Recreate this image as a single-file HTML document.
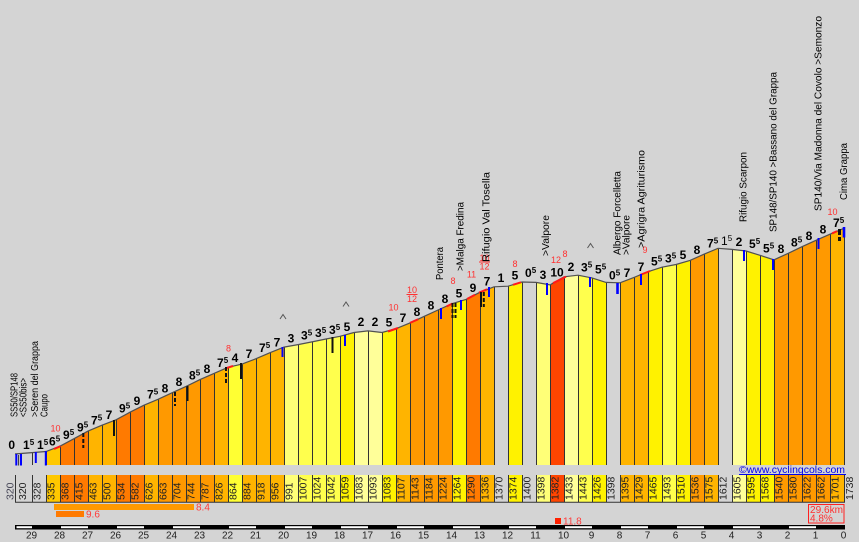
<!DOCTYPE html>
<html><head><meta charset="utf-8"><style>
html,body{margin:0;padding:0;background:#d4d4d4;}
svg{display:block;}
text{font-family:"Liberation Sans",sans-serif;}
</style></head><body>
<svg width="859" height="542" viewBox="0 0 859 542" xmlns="http://www.w3.org/2000/svg">
<rect width="859" height="542" fill="#d4d4d4"/>

<!-- bars -->
<g stroke="none">
<polygon points="46,451.5 60,446.2 60,465 46,465" fill="#FFC800"/>
<polygon points="60,446.2 74,438.7 74,465 60,465" fill="#FF7A00"/>
<polygon points="74,438.7 88,431.1 88,465 74,465" fill="#FF7A00"/>
<polygon points="88,431.1 102,425.2 102,465 88,465" fill="#FFB400"/>
<polygon points="102,425.2 116,419.8 116,465 102,465" fill="#FFB400"/>
<polygon points="116,419.8 130,412.2 130,465 116,465" fill="#FF7A00"/>
<polygon points="130,412.2 144,405.2 144,465 130,465" fill="#FF7A00"/>
<polygon points="144,405.2 158,399.3 158,465 144,465" fill="#FFB400"/>
<polygon points="158,399.3 172,392.8 172,465 158,465" fill="#FF9900"/>
<polygon points="172,392.8 186,386.4 186,465 172,465" fill="#FF9900"/>
<polygon points="186,386.4 200,379.6 200,465 186,465" fill="#FF9900"/>
<polygon points="200,379.6 214,373.4 214,465 200,465" fill="#FF9900"/>
<polygon points="214,373.4 228,367.3 228,465 214,465" fill="#FFB400"/>
<polygon points="228,367.3 242,364.1 242,465 228,465" fill="#FFFF33"/>
<polygon points="242,364.1 256,358.7 256,465 242,465" fill="#FFB400"/>
<polygon points="256,358.7 270,352.7 270,465 256,465" fill="#FFB400"/>
<polygon points="270,352.7 284,347.1 284,465 270,465" fill="#FFB400"/>
<polygon points="284,347.1 298,344.6 298,465 284,465" fill="#FFFF77"/>
<polygon points="298,344.6 312,341.9 312,465 298,465" fill="#FFFF4D"/>
<polygon points="312,341.9 326,339.0 326,465 312,465" fill="#FFFF4D"/>
<polygon points="326,339.0 340,336.3 340,465 326,465" fill="#FFFF4D"/>
<polygon points="340,336.3 354,332.5 354,465 340,465" fill="#FFF200"/>
<polygon points="354,332.5 368,330.9 368,465 354,465" fill="#FFFF99"/>
<polygon points="368,330.9 382,332.5 382,465 368,465" fill="#FFFF99"/>
<polygon points="382,332.5 396,328.7 396,465 382,465" fill="#FFF200"/>
<polygon points="396,328.7 410,322.9 410,465 396,465" fill="#FFB400"/>
<polygon points="410,322.9 424,316.4 424,465 410,465" fill="#FF9900"/>
<polygon points="424,316.4 438,310.0 438,465 424,465" fill="#FF9900"/>
<polygon points="438,310.0 452,303.7 452,465 438,465" fill="#FF9900"/>
<polygon points="452,303.7 466,299.5 466,465 452,465" fill="#FFF200"/>
<polygon points="466,299.5 480,292.2 480,465 466,465" fill="#FF7A00"/>
<polygon points="480,292.2 494,286.8 494,465 480,465" fill="#FFB400"/>
<polygon points="508,286.2 522,282.0 522,465 508,465" fill="#FFF200"/>
<polygon points="536,282.4 550,284.9 550,465 536,465" fill="#FFFF77"/>
<polygon points="550,284.9 564,276.8 564,465 550,465" fill="#FF4500"/>
<polygon points="564,276.8 578,275.2 578,465 564,465" fill="#FFFF99"/>
<polygon points="578,275.2 592,277.9 592,465 578,465" fill="#FFFF4D"/>
<polygon points="592,277.9 606,282.4 606,465 592,465" fill="#FFF200"/>
<polygon points="620,282.8 634,277.4 634,465 620,465" fill="#FFB400"/>
<polygon points="634,277.4 648,271.7 648,465 634,465" fill="#FFB400"/>
<polygon points="648,271.7 662,267.2 662,465 648,465" fill="#FFF200"/>
<polygon points="662,267.2 676,264.5 676,465 662,465" fill="#FFFF4D"/>
<polygon points="676,264.5 690,260.4 690,465 676,465" fill="#FFF200"/>
<polygon points="690,260.4 704,254.2 704,465 690,465" fill="#FF9900"/>
<polygon points="704,254.2 718,248.3 718,465 704,465" fill="#FFB400"/>
<polygon points="732,249.4 746,251.0 746,465 732,465" fill="#FFFF99"/>
<polygon points="746,251.0 760,255.3 760,465 746,465" fill="#FFF200"/>
<polygon points="760,255.3 774,259.8 774,465 760,465" fill="#FFF200"/>
<polygon points="774,259.8 788,253.4 788,465 774,465" fill="#FF9900"/>
<polygon points="788,253.4 802,246.7 802,465 788,465" fill="#FF9900"/>
<polygon points="802,246.7 816,240.3 816,465 802,465" fill="#FF9900"/>
<polygon points="816,240.3 830,234.2 830,465 816,465" fill="#FF9900"/>
<polygon points="830,234.2 844,228.3 844,465 830,465" fill="#FFB400"/>
</g>

<!-- separators -->
<path fill="none" stroke="#333" stroke-width="1" d="M16.5 453.9V465M32.5 452.6V465M46.5 451.5V465M60.5 446.2V465M74.5 438.7V465M88.5 431.1V465M102.5 425.2V465M116.5 419.8V465M130.5 412.2V465M144.5 405.2V465M158.5 399.3V465M172.5 392.8V465M186.5 386.4V465M200.5 379.6V465M214.5 373.4V465M228.5 367.3V465M242.5 364.1V465M256.5 358.7V465M270.5 352.7V465M284.5 347.1V465M298.5 344.6V465M312.5 341.9V465M326.5 339V465M340.5 336.3V465M354.5 332.5V465M368.5 330.9V465M382.5 332.5V465M396.5 328.7V465M410.5 322.9V465M424.5 316.4V465M438.5 310V465M452.5 303.7V465M466.5 299.5V465M480.5 292.2V465M494.5 286.8V465M508.5 286.2V465M522.5 282V465M536.5 282.4V465M550.5 284.9V465M564.5 276.8V465M578.5 275.2V465M592.5 277.9V465M606.5 282.4V465M620.5 282.8V465M634.5 277.4V465M648.5 271.7V465M662.5 267.2V465M676.5 264.5V465M690.5 260.4V465M704.5 254.2V465M718.5 248.3V465M732.5 249.4V465M746.5 251V465M760.5 255.3V465M774.5 259.8V465M788.5 253.4V465M802.5 246.7V465M816.5 240.3V465M830.5 234.2V465M844.5 228.3V465"/>

<!-- profile line -->
<polyline fill="none" stroke="#505050" stroke-width="1.2" points="15,453.9 16,453.9 32,452.6 46,451.5 60,446.2 74,438.7 88,431.1 102,425.2 116,419.8 130,412.2 144,405.2 158,399.3 172,392.8 186,386.4 200,379.6 214,373.4 228,367.3 242,364.1 256,358.7 270,352.7 284,347.1 298,344.6 312,341.9 326,339 340,336.3 354,332.5 368,330.9 382,332.5 396,328.7 410,322.9 424,316.4 438,310 452,303.7 466,299.5 480,292.2 494,286.8 508,286.2 522,282 536,282.4 550,284.9 564,276.8 578,275.2 592,277.9 606,282.4 620,282.8 634,277.4 648,271.7 662,267.2 676,264.5 690,260.4 704,254.2 718,248.3 732,249.4 746,251 760,255.3 774,259.8 788,253.4 802,246.7 816,240.3 830,234.2 844,228.3"/>

<!-- red steep marks -->
<g stroke="#FF1A1A" stroke-width="2" fill="none">
<line x1="54" y1="449" x2="60.5" y2="446.2"/>
<line x1="226" y1="368.2" x2="233" y2="366"/>
<line x1="388" y1="331.5" x2="398" y2="328"/>
<line x1="410" y1="322.9" x2="418" y2="319.3"/>
<line x1="446.5" y1="306.5" x2="452.5" y2="303.5"/>
<line x1="467" y1="299" x2="475" y2="294.8"/>
<line x1="479" y1="292.7" x2="487" y2="289.3"/>
<line x1="513" y1="284.8" x2="521" y2="282.3"/>
<line x1="553" y1="283.2" x2="566" y2="276.6"/>
<line x1="640" y1="275" x2="650" y2="271"/>
<line x1="832" y1="233.4" x2="837" y2="231.2"/>
</g>

<!-- blue markers -->
<g stroke="#0000FF" stroke-width="2">
<line x1="16.3" y1="454" x2="16.3" y2="465.5"/>
<line x1="21" y1="454" x2="21" y2="465.5"/>
<line x1="35.8" y1="452" x2="35.8" y2="463"/>
<line x1="45.8" y1="451" x2="45.8" y2="465.5"/>
<line x1="282.5" y1="347" x2="282.5" y2="357"/>
<line x1="345" y1="335" x2="345" y2="346"/>
<line x1="441" y1="308" x2="441" y2="319"/>
<line x1="461" y1="300" x2="461" y2="310"/>
<line x1="489" y1="287" x2="489" y2="297"/>
<line x1="547" y1="283" x2="547" y2="295"/>
<line x1="590" y1="277" x2="590" y2="287"/>
<line x1="617.5" y1="283" x2="617.5" y2="294" stroke-width="2.6"/>
<line x1="641" y1="274" x2="641" y2="285"/>
<line x1="744" y1="250" x2="744" y2="261"/>
<line x1="773" y1="259" x2="773" y2="270"/>
<line x1="818.5" y1="238" x2="818.5" y2="249"/>
<line x1="844" y1="227" x2="844" y2="237.5" stroke-width="2.6"/>
</g>
<line x1="18.6" y1="455" x2="18.6" y2="465.5" stroke="#333" stroke-width="1"/>

<!-- black markers -->
<g stroke="#111" stroke-width="2">
<line x1="83.3" y1="433" x2="83.3" y2="448" stroke-dasharray="4,2"/>
<line x1="114" y1="420" x2="114" y2="436"/>
<line x1="175" y1="392" x2="175" y2="406" stroke-dasharray="4,2"/>
<line x1="187.5" y1="386" x2="187.5" y2="401"/>
<line x1="226" y1="367" x2="226" y2="383" stroke-dasharray="4,2"/>
<line x1="241" y1="363" x2="241" y2="379"/>
<line x1="332.5" y1="337" x2="332.5" y2="353"/>
<line x1="452.5" y1="303" x2="452.5" y2="318" stroke-dasharray="4,2"/>
<line x1="455.5" y1="303" x2="455.5" y2="318" stroke-dasharray="4,2"/>
<line x1="481" y1="292" x2="481" y2="307"/>
<line x1="483.8" y1="292" x2="483.8" y2="307" stroke-dasharray="4,2"/>
<line x1="839.5" y1="229" x2="839.5" y2="243" stroke-width="3" stroke-dasharray="6,2,4"/>
</g>

<!-- carets -->
<g stroke="#555" stroke-width="1" fill="none">
<polyline points="280,319 283,314.5 286,319"/>
<polyline points="343,306.5 346,302 349,306.5"/>
<polyline points="587.5,248 590.5,243.5 593.5,248"/>
</g>

<!-- gradient labels -->
<g font-weight="bold" font-size="12" fill="#000">
<text x="11.7" y="449" text-anchor="middle">0</text>
<text x="23" y="449">1<tspan font-size="8" dy="-4">5</tspan></text>
<text x="37" y="449">1<tspan font-size="8" dy="-4">5</tspan></text>
<text x="49" y="445.4">6<tspan font-size="8" dy="-4">5</tspan></text>
<text x="63" y="439">9<tspan font-size="8" dy="-4">5</tspan></text>
<text x="77" y="431.4">9<tspan font-size="8" dy="-4">5</tspan></text>
<text x="91" y="424.7">7<tspan font-size="8" dy="-4">5</tspan></text>
<text x="109" y="419" text-anchor="middle">7</text>
<text x="119" y="412.5">9<tspan font-size="8" dy="-4">5</tspan></text>
<text x="137" y="405.2" text-anchor="middle">9</text>
<text x="147" y="398.7">7<tspan font-size="8" dy="-4">5</tspan></text>
<text x="165" y="392.5" text-anchor="middle">8</text>
<text x="179" y="386.1" text-anchor="middle">8</text>
<text x="189" y="379.5">8<tspan font-size="8" dy="-4">5</tspan></text>
<text x="207" y="373" text-anchor="middle">8</text>
<text x="217" y="366.8">7<tspan font-size="8" dy="-4">5</tspan></text>
<text x="235" y="362.2" text-anchor="middle">4</text>
<text x="249" y="357.9" text-anchor="middle">7</text>
<text x="259" y="352.2">7<tspan font-size="8" dy="-4">5</tspan></text>
<text x="277" y="346.4" text-anchor="middle">7</text>
<text x="291" y="342.3" text-anchor="middle">3</text>
<text x="301" y="339.7">3<tspan font-size="8" dy="-4">5</tspan></text>
<text x="315" y="336.9">3<tspan font-size="8" dy="-4">5</tspan></text>
<text x="329" y="334.1">3<tspan font-size="8" dy="-4">5</tspan></text>
<text x="347" y="330.9" text-anchor="middle">5</text>
<text x="361" y="326" text-anchor="middle">2</text>
<text x="375" y="326" text-anchor="middle">2</text>
<text x="389" y="326.5" text-anchor="middle">5</text>
<text x="403" y="322" text-anchor="middle">7</text>
<text x="417" y="316.2" text-anchor="middle">8</text>
<text x="431" y="309.7" text-anchor="middle">8</text>
<text x="445" y="303.2" text-anchor="middle">8</text>
<text x="459" y="297.5" text-anchor="middle">5</text>
<text x="473" y="292" text-anchor="middle">9</text>
<text x="487" y="285.5" text-anchor="middle">7</text>
<text x="501" y="282" text-anchor="middle">1</text>
<text x="515" y="279.5" text-anchor="middle">5</text>
<text x="525" y="277">0<tspan font-size="8" dy="-4">5</tspan></text>
<text x="543" y="279" text-anchor="middle">3</text>
<text x="557" y="276.5" text-anchor="middle">10</text>
<text x="571" y="271" text-anchor="middle">2</text>
<text x="581" y="271.5">3<tspan font-size="8" dy="-4">5</tspan></text>
<text x="595" y="273.5">5<tspan font-size="8" dy="-4">5</tspan></text>
<text x="609" y="279.5">0<tspan font-size="8" dy="-4">5</tspan></text>
<text x="627" y="277" text-anchor="middle">7</text>
<text x="641" y="271" text-anchor="middle">7</text>
<text x="651" y="265.5">5<tspan font-size="8" dy="-4">5</tspan></text>
<text x="665" y="262.4">3<tspan font-size="8" dy="-4">5</tspan></text>
<text x="683" y="259" text-anchor="middle">5</text>
<text x="697" y="253.8" text-anchor="middle">8</text>
<text x="707" y="247.7">7<tspan font-size="8" dy="-4">5</tspan></text>
<text x="721" y="245" font-weight="normal">1<tspan font-size="8" dy="-4">5</tspan></text>
<text x="739" y="245.9" text-anchor="middle">2</text>
<text x="749" y="248">5<tspan font-size="8" dy="-4">5</tspan></text>
<text x="763" y="252.3">5<tspan font-size="8" dy="-4">5</tspan></text>
<text x="781" y="253.1" text-anchor="middle">8</text>
<text x="791" y="246.5">8<tspan font-size="8" dy="-4">5</tspan></text>
<text x="809" y="240" text-anchor="middle">8</text>
<text x="823" y="233.7" text-anchor="middle">8</text>
<text x="833" y="227.2">7<tspan font-size="8" dy="-4">5</tspan></text>
</g>

<!-- red max gradient labels -->
<g font-size="9" fill="#FF3030" text-anchor="middle">
<text x="55.5" y="431.5">10</text>
<text x="228.5" y="351.5">8</text>
<text x="393.5" y="310.5">10</text>
<text x="412" y="293">10</text>
<text x="412" y="302">12</text>
<text x="453" y="284">8</text>
<text x="471.5" y="277.5">11</text>
<text x="484.5" y="260.8">10</text>
<text x="484.5" y="269.5">12</text>
<text x="515" y="267">8</text>
<text x="556" y="263">12</text>
<text x="565" y="257">8</text>
<text x="645" y="253">9</text>
<text x="832.5" y="215">10</text>
</g>
<g stroke="#FF3030" stroke-width="1">
<line x1="406.5" y1="294.5" x2="417.5" y2="294.5"/>
<line x1="479" y1="262" x2="490" y2="262"/>
</g>

<!-- place names -->
<g font-size="10.5" fill="#000">
<text transform="translate(17.3 417) rotate(-90)" textLength="44" lengthAdjust="spacingAndGlyphs">SS50/SP148</text>
<text transform="translate(26.3 417) rotate(-90)" textLength="39" lengthAdjust="spacingAndGlyphs">&lt;SS50bis&gt;</text>
<text transform="translate(38 417) rotate(-90)" textLength="76" lengthAdjust="spacingAndGlyphs">&gt;Seren del Grappa</text>
<text transform="translate(47.5 417) rotate(-90)" textLength="23" lengthAdjust="spacingAndGlyphs">Caupo</text>
<text transform="translate(443 280) rotate(-90)" textLength="33" lengthAdjust="spacingAndGlyphs">Pontera</text>
<text transform="translate(463.3 271) rotate(-90)" textLength="69" lengthAdjust="spacingAndGlyphs">&gt;Malga Fredina</text>
<text transform="translate(489.3 262) rotate(-90)" textLength="90" lengthAdjust="spacingAndGlyphs">Rifugio Val Tosella</text>
<text transform="translate(549 256) rotate(-90)" textLength="41" lengthAdjust="spacingAndGlyphs">&gt;Valpore</text>
<text transform="translate(620.3 255) rotate(-90)" textLength="84" lengthAdjust="spacingAndGlyphs">Albergo Forcelletta</text>
<text transform="translate(629.3 255) rotate(-90)" textLength="40" lengthAdjust="spacingAndGlyphs">&gt;Valpore</text>
<text transform="translate(644.3 248) rotate(-90)" textLength="98" lengthAdjust="spacingAndGlyphs">&gt;Agrigra Agriturismo</text>
<text transform="translate(746.3 222) rotate(-90)" textLength="70" lengthAdjust="spacingAndGlyphs">Rifugio Scarpon</text>
<text transform="translate(776.3 232) rotate(-90)" textLength="160" lengthAdjust="spacingAndGlyphs">SP148/SP140 &gt;Bassano del Grappa</text>
<text transform="translate(821.3 211) rotate(-90)" textLength="195" lengthAdjust="spacingAndGlyphs">SP140/Via Madonna del Covolo &gt;Semonzo</text>
<text transform="translate(847 200) rotate(-90)" textLength="57" lengthAdjust="spacingAndGlyphs">Cima Grappa</text>
</g>

<!-- website -->
<text x="739" y="473" font-size="10.5" fill="#0000EE" textLength="106" lengthAdjust="spacingAndGlyphs">©www.cyclingcols.com</text>
<line x1="739" y1="474.5" x2="846" y2="474.5" stroke="#0000EE" stroke-width="1"/>

<!-- label boxes -->
<g stroke="none">
<rect x="46" y="475" width="14" height="27" fill="#FFC800"/>
<rect x="60" y="475" width="14" height="27" fill="#FF7A00"/>
<rect x="74" y="475" width="14" height="27" fill="#FF7A00"/>
<rect x="88" y="475" width="14" height="27" fill="#FFB400"/>
<rect x="102" y="475" width="14" height="27" fill="#FFB400"/>
<rect x="116" y="475" width="14" height="27" fill="#FF7A00"/>
<rect x="130" y="475" width="14" height="27" fill="#FF7A00"/>
<rect x="144" y="475" width="14" height="27" fill="#FFB400"/>
<rect x="158" y="475" width="14" height="27" fill="#FF9900"/>
<rect x="172" y="475" width="14" height="27" fill="#FF9900"/>
<rect x="186" y="475" width="14" height="27" fill="#FF9900"/>
<rect x="200" y="475" width="14" height="27" fill="#FF9900"/>
<rect x="214" y="475" width="14" height="27" fill="#FFB400"/>
<rect x="228" y="475" width="14" height="27" fill="#FFFF33"/>
<rect x="242" y="475" width="14" height="27" fill="#FFB400"/>
<rect x="256" y="475" width="14" height="27" fill="#FFB400"/>
<rect x="270" y="475" width="14" height="27" fill="#FFB400"/>
<rect x="284" y="475" width="14" height="27" fill="#FFFF77"/>
<rect x="298" y="475" width="14" height="27" fill="#FFFF4D"/>
<rect x="312" y="475" width="14" height="27" fill="#FFFF4D"/>
<rect x="326" y="475" width="14" height="27" fill="#FFFF4D"/>
<rect x="340" y="475" width="14" height="27" fill="#FFF200"/>
<rect x="354" y="475" width="14" height="27" fill="#FFFF99"/>
<rect x="368" y="475" width="14" height="27" fill="#FFFF99"/>
<rect x="382" y="475" width="14" height="27" fill="#FFF200"/>
<rect x="396" y="475" width="14" height="27" fill="#FFB400"/>
<rect x="410" y="475" width="14" height="27" fill="#FF9900"/>
<rect x="424" y="475" width="14" height="27" fill="#FF9900"/>
<rect x="438" y="475" width="14" height="27" fill="#FF9900"/>
<rect x="452" y="475" width="14" height="27" fill="#FFF200"/>
<rect x="466" y="475" width="14" height="27" fill="#FF7A00"/>
<rect x="480" y="475" width="14" height="27" fill="#FFB400"/>
<rect x="508" y="475" width="14" height="27" fill="#FFF200"/>
<rect x="536" y="475" width="14" height="27" fill="#FFFF77"/>
<rect x="550" y="475" width="14" height="27" fill="#FF4500"/>
<rect x="564" y="475" width="14" height="27" fill="#FFFF99"/>
<rect x="578" y="475" width="14" height="27" fill="#FFFF4D"/>
<rect x="592" y="475" width="14" height="27" fill="#FFF200"/>
<rect x="620" y="475" width="14" height="27" fill="#FFB400"/>
<rect x="634" y="475" width="14" height="27" fill="#FFB400"/>
<rect x="648" y="475" width="14" height="27" fill="#FFF200"/>
<rect x="662" y="475" width="14" height="27" fill="#FFFF4D"/>
<rect x="676" y="475" width="14" height="27" fill="#FFF200"/>
<rect x="690" y="475" width="14" height="27" fill="#FF9900"/>
<rect x="704" y="475" width="14" height="27" fill="#FFB400"/>
<rect x="732" y="475" width="14" height="27" fill="#FFFF99"/>
<rect x="746" y="475" width="14" height="27" fill="#FFF200"/>
<rect x="760" y="475" width="14" height="27" fill="#FFF200"/>
<rect x="774" y="475" width="14" height="27" fill="#FF9900"/>
<rect x="788" y="475" width="14" height="27" fill="#FF9900"/>
<rect x="802" y="475" width="14" height="27" fill="#FF9900"/>
<rect x="816" y="475" width="14" height="27" fill="#FF9900"/>
<rect x="830" y="475" width="14" height="27" fill="#FFB400"/>
</g>
<path fill="none" stroke="#333" stroke-width="1" d="M15.5 475V502M32.5 475V502M46.5 475V502M60.5 475V502M74.5 475V502M88.5 475V502M102.5 475V502M116.5 475V502M130.5 475V502M144.5 475V502M158.5 475V502M172.5 475V502M186.5 475V502M200.5 475V502M214.5 475V502M228.5 475V502M242.5 475V502M256.5 475V502M270.5 475V502M284.5 475V502M298.5 475V502M312.5 475V502M326.5 475V502M340.5 475V502M354.5 475V502M368.5 475V502M382.5 475V502M396.5 475V502M410.5 475V502M424.5 475V502M438.5 475V502M452.5 475V502M466.5 475V502M480.5 475V502M494.5 475V502M508.5 475V502M522.5 475V502M536.5 475V502M550.5 475V502M564.5 475V502M578.5 475V502M592.5 475V502M606.5 475V502M620.5 475V502M634.5 475V502M648.5 475V502M662.5 475V502M676.5 475V502M690.5 475V502M704.5 475V502M718.5 475V502M732.5 475V502M746.5 475V502M760.5 475V502M774.5 475V502M788.5 475V502M802.5 475V502M816.5 475V502M830.5 475V502M844.5 475V502M15 502.2H845"/>

<!-- label box texts -->
<g font-size="10.5" fill="#222">
<text transform="translate(13.5 500) rotate(-90)" fill="#445">320</text>
<text transform="translate(26 500) rotate(-90)">320</text>
<text transform="translate(40.5 500) rotate(-90)">328</text>
<text transform="translate(54.5 500) rotate(-90)">335</text>
<text transform="translate(68.5 500) rotate(-90)">368</text>
<text transform="translate(82.5 500) rotate(-90)">415</text>
<text transform="translate(96.5 500) rotate(-90)">463</text>
<text transform="translate(110.5 500) rotate(-90)">500</text>
<text transform="translate(124.5 500) rotate(-90)">534</text>
<text transform="translate(138.5 500) rotate(-90)">582</text>
<text transform="translate(152.5 500) rotate(-90)">626</text>
<text transform="translate(166.5 500) rotate(-90)">663</text>
<text transform="translate(180.5 500) rotate(-90)">704</text>
<text transform="translate(194.5 500) rotate(-90)">744</text>
<text transform="translate(208.5 500) rotate(-90)">787</text>
<text transform="translate(222.5 500) rotate(-90)">826</text>
<text transform="translate(236.5 500) rotate(-90)">864</text>
<text transform="translate(250.5 500) rotate(-90)">884</text>
<text transform="translate(264.5 500) rotate(-90)">918</text>
<text transform="translate(278.5 500) rotate(-90)">956</text>
<text transform="translate(292.5 500) rotate(-90)">991</text>
<text transform="translate(306.5 500) rotate(-90)">1007</text>
<text transform="translate(320.5 500) rotate(-90)">1024</text>
<text transform="translate(334.5 500) rotate(-90)">1042</text>
<text transform="translate(348.5 500) rotate(-90)">1059</text>
<text transform="translate(362.5 500) rotate(-90)">1083</text>
<text transform="translate(376.5 500) rotate(-90)">1093</text>
<text transform="translate(390.5 500) rotate(-90)">1083</text>
<text transform="translate(404.5 500) rotate(-90)">1107</text>
<text transform="translate(418.5 500) rotate(-90)">1143</text>
<text transform="translate(432.5 500) rotate(-90)">1184</text>
<text transform="translate(446.5 500) rotate(-90)">1224</text>
<text transform="translate(460.5 500) rotate(-90)">1264</text>
<text transform="translate(474.5 500) rotate(-90)">1290</text>
<text transform="translate(488.5 500) rotate(-90)">1336</text>
<text transform="translate(502.5 500) rotate(-90)">1370</text>
<text transform="translate(516.5 500) rotate(-90)">1374</text>
<text transform="translate(530.5 500) rotate(-90)">1400</text>
<text transform="translate(544.5 500) rotate(-90)">1398</text>
<text transform="translate(558.5 500) rotate(-90)">1382</text>
<text transform="translate(572.5 500) rotate(-90)">1433</text>
<text transform="translate(586.5 500) rotate(-90)">1443</text>
<text transform="translate(600.5 500) rotate(-90)">1426</text>
<text transform="translate(614.5 500) rotate(-90)">1398</text>
<text transform="translate(628.5 500) rotate(-90)">1395</text>
<text transform="translate(642.5 500) rotate(-90)">1429</text>
<text transform="translate(656.5 500) rotate(-90)">1465</text>
<text transform="translate(670.5 500) rotate(-90)">1493</text>
<text transform="translate(684.5 500) rotate(-90)">1510</text>
<text transform="translate(698.5 500) rotate(-90)">1536</text>
<text transform="translate(712.5 500) rotate(-90)">1575</text>
<text transform="translate(726.5 500) rotate(-90)">1612</text>
<text transform="translate(740.5 500) rotate(-90)">1605</text>
<text transform="translate(754.5 500) rotate(-90)">1595</text>
<text transform="translate(768.5 500) rotate(-90)">1568</text>
<text transform="translate(782.5 500) rotate(-90)">1540</text>
<text transform="translate(796.5 500) rotate(-90)">1580</text>
<text transform="translate(810.5 500) rotate(-90)">1622</text>
<text transform="translate(824.5 500) rotate(-90)">1662</text>
<text transform="translate(838.5 500) rotate(-90)">1701</text>
<text transform="translate(853 500) rotate(-90)">1738</text>
</g>

<!-- steepest sections bars -->
<rect x="54" y="504" width="140" height="6" fill="#FF9900"/>
<text x="196" y="510.5" font-size="10" fill="#FF3B3B">8.4</text>
<rect x="56" y="511" width="28" height="6" fill="#FF7A00"/>
<text x="86" y="517.5" font-size="10" fill="#FF3B3B">9.6</text>
<rect x="555" y="518" width="6" height="6" fill="#FF2000"/>
<text x="563" y="524.3" font-size="10" fill="#FF3B3B">11.8</text>

<!-- summary box -->
<rect x="808.5" y="504.5" width="35.5" height="18.5" fill="none" stroke="#FF2020" stroke-width="1"/>
<text x="810" y="512.8" font-size="10" fill="#FF3030" textLength="33" lengthAdjust="spacingAndGlyphs">29.6km</text>
<text x="810" y="521.6" font-size="10" fill="#FF3030">4.8%</text>

<!-- km scale -->
<rect x="15" y="525" width="830" height="4.5" fill="#000"/>
<g fill="#fff">
<rect x="16.5" y="526.2" width="15.5" height="2"/>
<rect x="61" y="526.2" width="27" height="2"/>
<rect x="117" y="526.2" width="27" height="2"/>
<rect x="173" y="526.2" width="27" height="2"/>
<rect x="229" y="526.2" width="27" height="2"/>
<rect x="285" y="526.2" width="27" height="2"/>
<rect x="341" y="526.2" width="27" height="2"/>
<rect x="397" y="526.2" width="27" height="2"/>
<rect x="453" y="526.2" width="27" height="2"/>
<rect x="509" y="526.2" width="27" height="2"/>
<rect x="565" y="526.2" width="27" height="2"/>
<rect x="621" y="526.2" width="27" height="2"/>
<rect x="677" y="526.2" width="27" height="2"/>
<rect x="733" y="526.2" width="27" height="2"/>
<rect x="789" y="526.2" width="27" height="2"/>
</g>
<g font-size="10" fill="#222" text-anchor="middle">
<text x="31.5" y="538.5">29</text>
<text x="59.5" y="538.5">28</text>
<text x="87.5" y="538.5">27</text>
<text x="115.5" y="538.5">26</text>
<text x="143.5" y="538.5">25</text>
<text x="171.5" y="538.5">24</text>
<text x="199.5" y="538.5">23</text>
<text x="227.5" y="538.5">22</text>
<text x="255.5" y="538.5">21</text>
<text x="283.5" y="538.5">20</text>
<text x="311.5" y="538.5">19</text>
<text x="339.5" y="538.5">18</text>
<text x="367.5" y="538.5">17</text>
<text x="395.5" y="538.5">16</text>
<text x="423.5" y="538.5">15</text>
<text x="451.5" y="538.5">14</text>
<text x="479.5" y="538.5">13</text>
<text x="507.5" y="538.5">12</text>
<text x="535.5" y="538.5">11</text>
<text x="563.5" y="538.5">10</text>
<text x="591.5" y="538.5">9</text>
<text x="619.5" y="538.5">8</text>
<text x="647.5" y="538.5">7</text>
<text x="675.5" y="538.5">6</text>
<text x="703.5" y="538.5">5</text>
<text x="731.5" y="538.5">4</text>
<text x="759.5" y="538.5">3</text>
<text x="787.5" y="538.5">2</text>
<text x="815.5" y="538.5">1</text>
<text x="843.5" y="538.5">0</text>
</g>
</svg>
</body></html>
